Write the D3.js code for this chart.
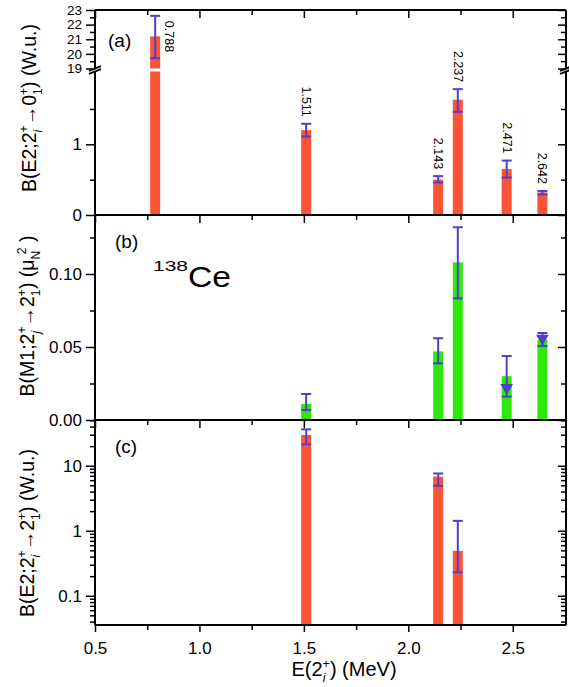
<!DOCTYPE html>
<html>
<head>
<meta charset="utf-8">
<script src="https://cdn.jsdelivr.net/npm/d3@7"></script>
<style>
body { margin: 0; background: #fff; }
text { font-family: "Liberation Sans", Arial, Helvetica, sans-serif; fill: #000; }
</style>
</head>
<body>
<svg id="chart" width="569" height="687"></svg>
<script>
// (a) B(E2; 2+_i -> 0+_1) in W.u.
const energyA = [0.788, 1.511, 2.143, 2.237, 2.471, 2.642]
const be2Ground = [21.2, 1.20, 0.50, 1.63, 0.65, 0.32]
const be2GroundLo = [19.7, 1.11, 0.46, 1.46, 0.53, 0.29]
const be2GroundHi = [22.6, 1.29, 0.55, 1.78, 0.77, 0.34]
const levelLabels = ["0.788", "1.511", "2.143", "2.237", "2.471", "2.642"]

// (b) B(M1; 2+_j -> 2+_1) in mu_N^2
const energyB = [1.511, 2.143, 2.237, 2.471, 2.642]
const bm1 = [0.011, 0.047, 0.108, 0.030, 0.055]
const bm1Lo = [0.0068, 0.0388, 0.0833, 0.016, 0.0507]
const bm1Hi = [0.0178, 0.056, 0.132, 0.0438, 0.0596]
const triEnergy = [2.471, 2.642]
const triValue = [0.0221, 0.0558]

// (c) B(E2; 2+_i -> 2+_1) in W.u.
const energyC = [1.511, 2.143, 2.237]
const be2First = [29.7, 6.8, 0.49]
const be2FirstLo = [21.3, 4.9, 0.23]
const be2FirstHi = [36.3, 7.6, 1.42]

// ticks
const xMajor = [0.5, 1.0, 1.5, 2.0, 2.5]
const xMinor = [0.75, 1.25, 1.75, 2.25]
const aLowMajor = [0, 1], aLowMinor = [0.5, 1.5]
const aUpMajor = [19, 20, 21, 22, 23], aUpMinor = [19.5, 20.5, 21.5, 22.5]
const bMajor = [0, 0.05, 0.10], bMinor = [0.025, 0.075, 0.125]
const cMajor = [0.1, 1, 10]
const cMinor = [0.04, 0.05, 0.06, 0.07, 0.08, 0.09, 0.2, 0.3, 0.4, 0.5, 0.6, 0.7, 0.8, 0.9,
                2, 3, 4, 5, 6, 7, 8, 9, 20, 30, 40, 50]

const RED = "#fc5337", GREEN = "#2ee80c", BLUE = "#5040c8"
const left = 95, right = 566
const barW = 10

const svg = d3.select("#chart")
svg.append("rect").attr("width", 569).attr("height", 687).attr("fill", "#fff")

const x = d3.scaleLinear().domain([0.5, 2.755]).range([left, right])

// panel (a) has a broken axis
const lowMax = 2.03
const yL = d3.scaleLinear().domain([0, lowMax]).range([215, 71.5])
const yU = d3.scaleLinear().domain([19, 23]).range([68.5, 10])
const yA = v => v > lowMax ? yU(v) : yL(v)
const yB = d3.scaleLinear().domain([0, 0.1404]).range([420, 215])
const yC = d3.scaleLog().domain([0.0355, 50.5]).range([625, 420])

function clean(g, fs) {
    g.select(".domain").remove()
    g.selectAll("line").attr("stroke", "#000").attr("stroke-width", 1.5)
    g.selectAll("text").style("font-size", (fs || 17) + "px")
}

// left + right ticks for one y scale
function yTicks(scale, major, minor, fmt, fs) {
    svg.append("g").attr("transform", `translate(${left},0)`)
       .call(d3.axisLeft(scale).tickValues(major).tickSize(9).tickPadding(4).tickFormat(fmt))
       .call(clean, fs)
    svg.append("g").attr("transform", `translate(${left},0)`)
       .call(d3.axisLeft(scale).tickValues(minor).tickSize(5).tickFormat(""))
       .call(clean)
    svg.append("g").attr("transform", `translate(${right},0)`)
       .call(d3.axisRight(scale).tickValues(major).tickSize(-8).tickFormat(""))
       .call(clean)
    svg.append("g").attr("transform", `translate(${right},0)`)
       .call(d3.axisRight(scale).tickValues(minor).tickSize(-5).tickFormat(""))
       .call(clean)
}

// top ticks (inward) of every panel
function topTicks(y0) {
    svg.append("g").attr("transform", `translate(0,${y0})`)
       .call(d3.axisTop(x).tickValues(xMajor).tickSize(-8).tickFormat(""))
       .call(clean)
    svg.append("g").attr("transform", `translate(0,${y0})`)
       .call(d3.axisTop(x).tickValues(xMinor).tickSize(-5).tickFormat(""))
       .call(clean)
}

yTicks(yL, aLowMajor, aLowMinor, d3.format("d"))
yTicks(yU, aUpMajor, aUpMinor, d3.format("d"), 13.5)
yTicks(yB, bMajor, bMinor, d3.format(".2f"))
yTicks(yC, cMajor, cMinor, d => d < 1 ? String(d) : d3.format("d")(d))
topTicks(10); topTicks(215); topTicks(420)

svg.append("g").attr("transform", "translate(0,625)")
   .call(d3.axisBottom(x).tickValues(xMajor).tickSize(7).tickPadding(10).tickFormat(d3.format(".1f")))
   .call(clean)
svg.append("g").attr("transform", "translate(0,625)")
   .call(d3.axisBottom(x).tickValues(xMinor).tickSize(5).tickFormat(""))
   .call(clean)

// ---------- bars (a)
const dataA = energyA.map((e, i) => ({e, v: be2Ground[i], lo: be2GroundLo[i], hi: be2GroundHi[i], label: levelLabels[i]}))
const gA = svg.append("g")
gA.selectAll("rect.low").data(dataA).join("rect")
  .attr("x", d => x(d.e) - barW / 2).attr("width", barW)
  .attr("y", d => yL(Math.min(d.v, lowMax)))
  .attr("height", d => yL(0) - yL(Math.min(d.v, lowMax)))
  .attr("fill", RED)
gA.selectAll("rect.up").data(dataA.filter(d => d.v > lowMax)).join("rect")
  .attr("x", d => x(d.e) - barW / 2).attr("width", barW)
  .attr("y", d => yU(d.v)).attr("height", d => yU(19) - yU(d.v))
  .attr("fill", RED)

function errorBars(g, data, yf) {
    const eb = g.selectAll("g.err").data(data).join("g").attr("stroke", BLUE).attr("stroke-width", 2)
    eb.append("line").attr("x1", d => x(d.e)).attr("x2", d => x(d.e))
      .attr("y1", d => yf(d.hi)).attr("y2", d => yf(d.lo))
    eb.append("line").attr("x1", d => x(d.e) - 5).attr("x2", d => x(d.e) + 5)
      .attr("y1", d => yf(d.hi)).attr("y2", d => yf(d.hi))
    eb.append("line").attr("x1", d => x(d.e) - 5).attr("x2", d => x(d.e) + 5)
      .attr("y1", d => yf(d.lo)).attr("y2", d => yf(d.lo))
}
errorBars(gA, dataA, yA)

// level energy labels, rotated
gA.selectAll("text.lvl").data(dataA).join("text")
  .attr("transform", d => d.v > lowMax
        ? `translate(${x(d.e) + 14},${yA(d.hi) + 5}) rotate(90)`
        : `translate(${x(d.e)},${yA(d.hi) - 7}) rotate(90)`)
  .attr("text-anchor", d => d.v > lowMax ? "start" : "end")
  .attr("dominant-baseline", "central")
  .style("font-size", "12.5px")
  .text(d => d.label)

// ---------- bars (b)
const dataB = energyB.map((e, i) => ({e, v: bm1[i], lo: bm1Lo[i], hi: bm1Hi[i]}))
const gB = svg.append("g")
gB.selectAll("rect").data(dataB).join("rect")
  .attr("x", d => x(d.e) - barW / 2).attr("width", barW)
  .attr("y", d => yB(d.v)).attr("height", d => yB(0) - yB(d.v))
  .attr("fill", GREEN)
errorBars(gB, dataB, yB)
gB.selectAll("path.tri").data(triEnergy.map((e, i) => ({e, v: triValue[i]}))).join("path")
  .attr("d", d3.symbol().type(d3.symbolTriangle).size(70))
  .attr("transform", d => `translate(${x(d.e)},${yB(d.v)}) rotate(180)`)
  .attr("fill", BLUE)

// ---------- bars (c)
const dataC = energyC.map((e, i) => ({e, v: be2First[i], lo: be2FirstLo[i], hi: be2FirstHi[i]}))
const gC = svg.append("g")
gC.selectAll("rect").data(dataC).join("rect")
  .attr("x", d => x(d.e) - barW / 2).attr("width", barW)
  .attr("y", d => yC(d.v)).attr("height", d => 625 - yC(d.v))
  .attr("fill", RED)
errorBars(gC, dataC, yC)

// ---------- frames
const frame = svg.append("g").attr("stroke", "#000").attr("stroke-width", 2).attr("fill", "none")
function hline(y) { frame.append("line").attr("x1", left).attr("x2", right).attr("y1", y).attr("y2", y) }
function vline(xx, y1, y2) { frame.append("line").attr("x1", xx).attr("x2", xx).attr("y1", y1).attr("y2", y2) }
hline(10); hline(215); hline(420); hline(625)
vline(left, 10, 68.5); vline(left, 71.5, 625)
vline(right, 10, 68.5); vline(right, 71.5, 625)
// axis break marks
;[left, right].forEach(xx => {
    frame.append("line").attr("x1", xx - 6).attr("x2", xx + 6).attr("y1", 70.9).attr("y2", 66.1)
    frame.append("line").attr("x1", xx - 6).attr("x2", xx + 6).attr("y1", 73.9).attr("y2", 69.1)
})

// ---------- texts
function rich(g, parts, size) {
    const t = g.append("text").style("font-size", size + "px")
    let shift = 0
    parts.forEach(p => {
        const target = p.k === "sup" ? -0.42 * size : p.k === "sub" ? 0.3 * size : 0
        const s = t.append("tspan").text(p.t).attr("dy", target - shift)
        if (p.k) s.style("font-size", (0.62 * size) + "px")
        if (p.back) s.attr("dx", -p.back)
        if (p.fwd) s.attr("dx", p.fwd)
        if (p.it) s.style("font-style", "italic")
        shift = target
    })
    return t
}

const sz = 19.5
const small = 0.62 * sz
const wPlus = 0.584 * small, wI = 0.222 * small, wOne = 0.556 * small
function yTitle(parts, cx, cy) {
    rich(svg.append("g").attr("transform", `translate(${cx},${cy}) rotate(-90)`), parts, sz)
        .attr("text-anchor", "middle")
}
yTitle([{t: "B(E2;2"}, {t: "+", k: "sup"}, {t: "i", k: "sub", it: true, back: wPlus}, {t: "\u21920", fwd: wPlus - wI},
        {t: "+", k: "sup"}, {t: "1", k: "sub", back: wPlus}, {t: ") (W.u.)", fwd: wPlus - wOne}], 36, 108)
yTitle([{t: "B(M1;2"}, {t: "+", k: "sup"}, {t: "j", k: "sub", it: true, back: wPlus}, {t: "\u21922", fwd: wPlus - wI},
        {t: "+", k: "sup"}, {t: "1", k: "sub", back: wPlus}, {t: ") (\u03bc", fwd: wPlus - wOne}, {t: "N", k: "sub"},
        {t: "2", k: "sup", back: 0.5 * wPlus}, {t: " )"}], 34, 316)
yTitle([{t: "B(E2;2"}, {t: "+", k: "sup"}, {t: "i", k: "sub", it: true, back: wPlus}, {t: "\u21922", fwd: wPlus - wI},
        {t: "+", k: "sup"}, {t: "1", k: "sub", back: wPlus}, {t: ") (W.u.)", fwd: wPlus - wOne}], 34, 533)

rich(svg.append("g").attr("transform", "translate(344,676)"),
     [{t: "E(2"}, {t: "+", k: "sup"}, {t: "i", k: "sub", it: true, back: wPlus}, {t: ") (MeV)", fwd: wPlus - wI}], 20)
    .attr("text-anchor", "middle")

svg.append("text").attr("x", 108).attr("y", 47).style("font-size", "19px").text("(a)")
svg.append("text").attr("x", 115).attr("y", 248).style("font-size", "19px").text("(b)")
svg.append("text").attr("x", 115).attr("y", 453).style("font-size", "19px").text("(c)")

svg.append("text").attr("x", 153).attr("y", 271).style("font-size", "15px")
   .attr("textLength", 35).attr("lengthAdjust", "spacingAndGlyphs").text("138")
svg.append("text").attr("x", 188).attr("y", 287).style("font-size", "29px")
   .attr("textLength", 43).attr("lengthAdjust", "spacingAndGlyphs").text("Ce")
</script>
</body>
</html>
